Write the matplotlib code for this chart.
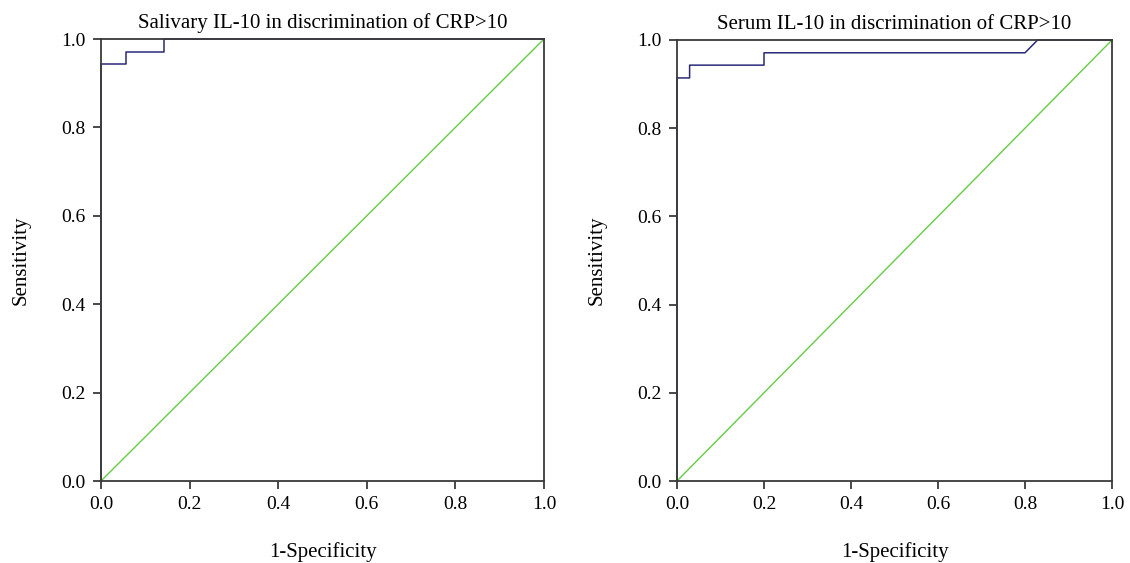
import matplotlib
matplotlib.use("Agg")
import matplotlib.pyplot as plt

plt.rcParams['font.family'] = ['Liberation Serif', 'DejaVu Serif']

titles = ["Salivary IL-10 in discrimination of CRP>10",
          "Serum IL-10 in discrimination of CRP>10"]

# ROC curve points (1-specificity, sensitivity)
sal_fpr = [0.0, 0.0, 0.057, 0.057, 0.143, 0.143, 1.0]
sal_tpr = [0.0, 0.943, 0.943, 0.971, 0.971, 1.0, 1.0]

ser_fpr = [0.0, 0.0, 0.029, 0.029, 0.2, 0.2, 0.8, 0.829, 1.0]
ser_tpr = [0.0, 0.914, 0.914, 0.943, 0.943, 0.971, 0.971, 1.0, 1.0]

ticks = [0.0, 0.2, 0.4, 0.6, 0.8, 1.0]
tick_labels = ["0.0", "0.2", "0.4", "0.6", "0.8", "1.0"]

fig = plt.figure(figsize=(11.3, 5.63), dpi=100)
ax1 = fig.add_axes([101/1130, 1-481/563, 443/1130, 442/563])
ax2 = fig.add_axes([677/1130, 1-481/563, 435/1130, 441/563])

spine_col = '#3a3a3a'
for ax, title, fx, ty in [(ax1, titles[0], sal_fpr, sal_tpr),
                          (ax2, titles[1], ser_fpr, ser_tpr)]:
    ax.plot([0, 1], [0, 1], color='#66cc44', lw=1.0, clip_on=False, zorder=1.5)
    ax.plot(fx, ty, color='#2a2a78', lw=1.1, clip_on=False, zorder=2)
    ax.set_xlim(0, 1)
    ax.set_ylim(0, 1)
    ax.set_xticks(ticks)
    ax.set_xticklabels(tick_labels)
    ax.set_yticks(ticks)
    ax.set_yticklabels(tick_labels)
    ax.tick_params(direction='out', length=6, width=1.3, color=spine_col,
                   labelsize=14, pad=5)
    for s in ax.spines.values():
        s.set_color(spine_col)
        s.set_linewidth(1.3)
        s.set_zorder(3)
    ax.set_title(title, fontsize=15, pad=8)
    ax.set_xlabel("1-Specificity", fontsize=15, labelpad=21)
    ax.set_ylabel("Sensitivity", fontsize=15, labelpad=22)

fig.savefig("out.png", dpi=100)
